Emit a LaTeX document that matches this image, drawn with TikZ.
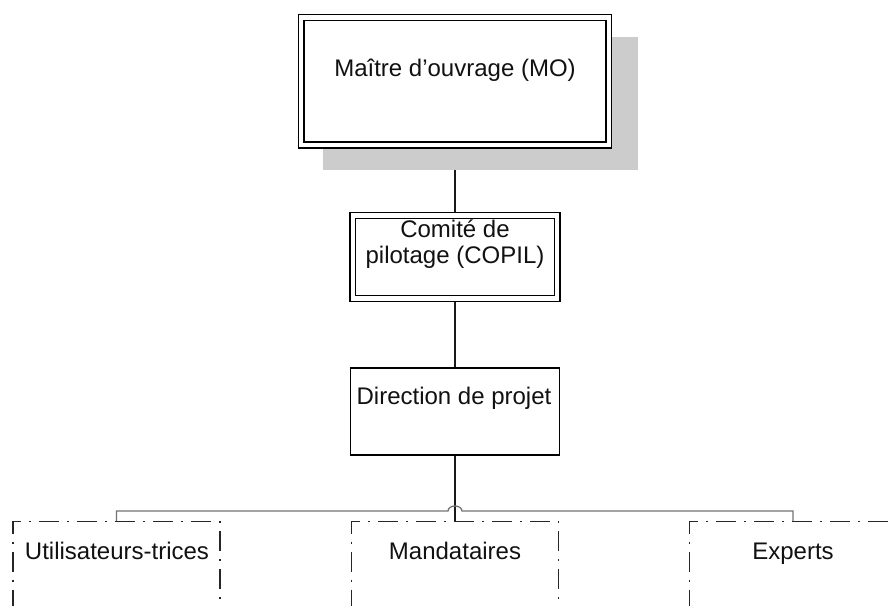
\documentclass[tikz,border=0pt]{standalone}
\usepackage{fontspec}
\setmainfont{Liberation Sans}
\usetikzlibrary{backgrounds,calc}
\definecolor{shadowgray}{HTML}{CCCCCC}
\definecolor{txtcol}{HTML}{111111}
\tikzset{
  dbox/.style={draw=black, line width=0.75pt, double=white, double distance=2.2pt, fill=white, inner sep=0pt, outer sep=0pt},
  sbox/.style={draw=black, line width=0.85pt, fill=white, inner sep=0pt, outer sep=0pt},
  ddbox/.style={draw=black!85, line width=0.9pt, dash pattern=on 10pt off 4pt on 1pt off 4pt, inner sep=0pt, outer sep=0pt, minimum width=103.5pt, minimum height=44pt},
  txt/.style={text=txtcol, font=\fontsize{12}{13}\selectfont, inner sep=0pt, anchor=base},
  conn/.style={draw=black!90, line width=0.85pt},
  bar/.style={draw=black!55, line width=0.65pt},
}
\begin{document}
\begin{tikzpicture}[x=0.5pt, y=-0.5pt]
\useasboundingbox (0,0) rectangle (888,605);
\clip (0,0) rectangle (888,605);
% shadow
\fill[shadowgray] (323,37) rectangle (638,170);
% boxes
\node[dbox, minimum width=153.75pt, minimum height=63.75pt] (mo) at (455,81.25) {};
\node[dbox, minimum width=102.25pt, minimum height=41.5pt] (copil) at (455,257) {};
\node[sbox, minimum width=104.5pt, minimum height=43.5pt] (dir) at (455,411.5) {};
\node[ddbox] (util) at (116.5,565.5) {};
\node[ddbox] (mand) at (455,565.5) {};
\node[ddbox] (exp) at (793,565.5) {};
% texts
\node[txt] (tmo) at (455,76) {Maître d’ouvrage (MO)};
\node[txt, anchor=center, align=center] (tcopil) at (455,244) {Comité de\\pilotage (COPIL)};
\node[txt] (tdir) at (454,404) {Direction de projet};
\node[txt] (tutil) at (117,559) {Utilisateurs-trices};
\node[txt] (tmand) at (455,559) {Mandataires};
\node[txt] (texp) at (793,559) {Experts};
% connectors
\coordinate (jump) at (455,511);
\begin{scope}[on background layer]
\draw[conn] (mo.south) -- (copil.north);
\draw[conn] (copil.south) -- (dir.north);
\draw[conn] (dir.south) -- (mand.north);
\draw[bar] (util.north) |- ($(jump)+(-7,0)$) arc[start angle=180, end angle=360, x radius=7, y radius=5] -| (exp.north);
\end{scope}
\end{tikzpicture}
\end{document}
